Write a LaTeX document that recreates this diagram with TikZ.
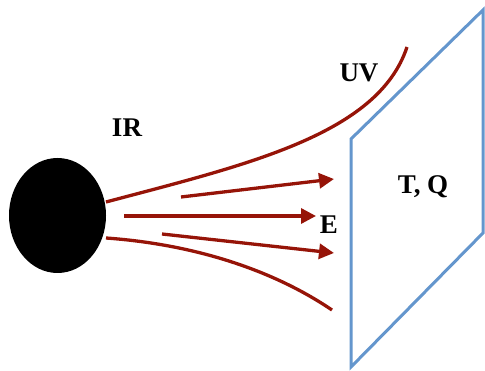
\documentclass[tikz,border=0pt]{standalone}
\usepackage{fontspec}
\setmainfont{Liberation Serif}
\usetikzlibrary{arrows.meta,shapes.geometric}
\definecolor{beam}{RGB}{150,20,8}
\definecolor{screen}{RGB}{100,150,205}
\tikzset{
  beamline/.style={draw=beam, line width=3.3pt},
  beamarrow/.style={beamline, -{Triangle[length=15pt,width=15pt]}},
  lbl/.style={font=\bfseries\fontsize{27}{30}\selectfont, inner sep=0pt},
}
\begin{document}
\begin{tikzpicture}[x=1pt,y=-1pt]
\useasboundingbox (0,0) rectangle (485,371);
% screen
\draw[screen, line width=3pt, line join=miter] (351,139) -- (483,10) -- (483,233) -- (351,367) -- cycle;
% source
\node[draw=none, fill=black, ellipse, minimum width=97pt, minimum height=115pt, inner sep=0pt] (src) at (57.5,215.5) {};
% free ends
\coordinate (uvs) at (106,202);
\coordinate (uve) at (407,47);
\coordinate (a1s) at (181,197);
\coordinate (a1e) at (334,179);
\coordinate (a2s) at (124,216);
\coordinate (a2e) at (316,216);
\coordinate (a3s) at (162,234);
\coordinate (a3e) at (334,253);
\coordinate (lws) at (106,238);
\coordinate (lwe) at (332,310);
% beams
\draw[beamline] (uvs) .. controls (245,165) and (378,135) .. (uve);
\draw[beamarrow] (a1s) -- (a1e);
\draw[beamarrow] (a2s) -- (a2e);
\draw[beamarrow] (a3s) -- (a3e);
\draw[beamline] (lws) .. controls (190,244) and (270,268) .. (lwe);
% labels
\node[lbl] (ir) at (127,128) {IR};
\node[lbl] (uv) at (359,73) {UV};
\node[lbl] (e) at (329,225) {E};
\node[lbl] (tq) at (423,187) {T, Q};
\end{tikzpicture}
\end{document}
